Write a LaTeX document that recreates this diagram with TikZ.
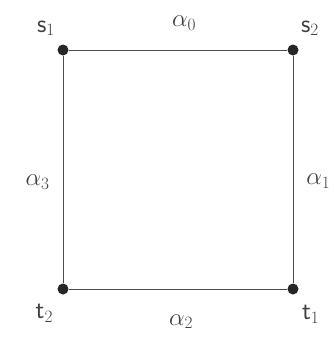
\documentclass[tikz,border=0pt]{standalone}
\usepackage{tikz}
\usetikzlibrary{positioning}

\tikzset{
  corner/.style={circle, fill=black!85, inner sep=0pt, minimum size=11pt},
  lbl/.style={font=\fontsize{26}{26}\selectfont, text=black!75, inner sep=1pt}
}

\begin{document}
\begin{tikzpicture}[x=1pt, y=-1pt]
        \useasboundingbox (0,0) rectangle (333,343);
        \node[corner, label={[lbl, label distance=9pt]118:\textsf{s}$_1$}] (s1) at (63,50) {};
        \node[corner, label={[lbl, label distance=9pt]62:\textsf{s}$_2$}] (s2) at (293,50) {};
        \node[corner, label={[lbl, label distance=11pt]-62:\textsf{t}$_1$}] (t1) at (293,289) {};
        \node[corner, label={[lbl, label distance=11pt]-122:\textsf{t}$_2$}] (t2) at (63,289) {};
%
		\path[draw=black!70, line width=0.9pt]
        (s1) edge node[lbl, above=18pt, xshift=6pt]{$\alpha_0$} (s2)
        (s2) edge node[lbl, right=12pt, yshift=-12pt]{$\alpha_1$} (t1)
        (t1) edge node[lbl, below=24pt, xshift=3pt]{$\alpha_2$} (t2)
        (t2) edge node[lbl, left=12pt, yshift=-13pt]{$\alpha_3$} (s1);
	\end{tikzpicture}
\end{document}
